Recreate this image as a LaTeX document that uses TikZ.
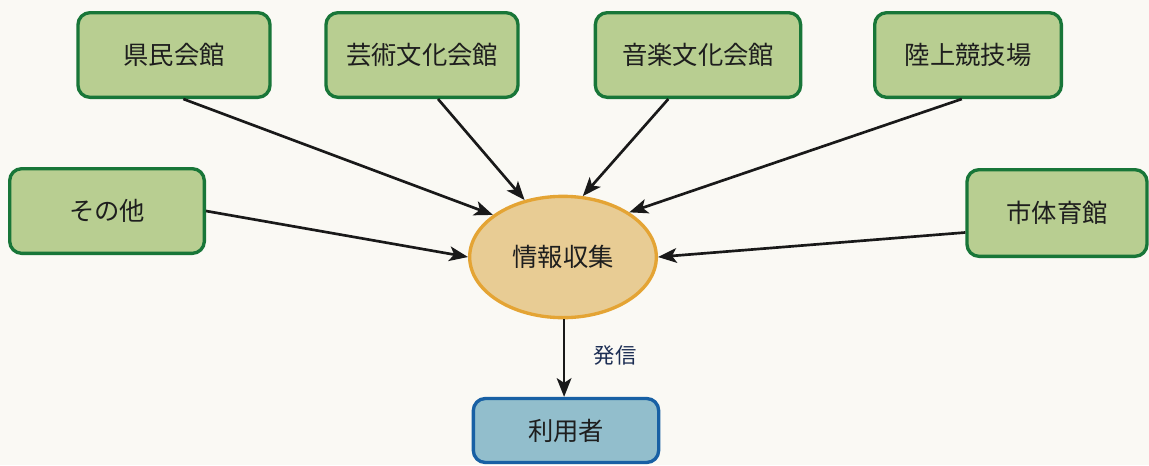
\documentclass[tikz,border=0pt]{standalone}
\usepackage{fontspec}
\newfontfamily\jpfont{Noto Sans CJK JP}
\usetikzlibrary{shapes.geometric,arrows.meta}

\tikzset{every picture/.style={line width=0.75pt}}
\tikzset{
	facility/.style={draw={rgb, 255:red, 24; green, 118; blue, 56 }, fill={rgb, 255:red, 184; green, 206; blue, 145 }, line width=2.5pt, rounded corners=9pt, minimum width=144pt, minimum height=63.5pt, text={rgb, 255:red, 30; green, 30; blue, 30 }, font=\jpfont\fontsize{19}{22}\selectfont},
	center/.style={ellipse, draw={rgb, 255:red, 228; green, 164; blue, 52 }, fill={rgb, 255:red, 232; green, 204; blue, 148 }, line width=2.5pt, minimum width=140pt, minimum height=91pt, inner sep=0pt, text={rgb, 255:red, 30; green, 30; blue, 30 }, font=\jpfont\fontsize{19}{22}\selectfont},
	user/.style={draw={rgb, 255:red, 24; green, 96; blue, 164 }, fill={rgb, 255:red, 146; green, 190; blue, 204 }, line width=2.5pt, rounded corners=9pt, minimum width=139pt, minimum height=48pt, text={rgb, 255:red, 30; green, 30; blue, 30 }, font=\jpfont\fontsize{19}{22}\selectfont},
	feed/.style={line width=2pt, -{Stealth[length=14pt,width=11pt,inset=3.5pt]}, draw={rgb, 255:red, 25; green, 25; blue, 25 }}
}

\begin{document}
\begin{tikzpicture}[x=0.75pt,y=0.75pt,yscale=-1,xscale=1]
	%set diagram area
	\useasboundingbox [fill={rgb, 255:red, 250; green, 249; blue, 244 }] (0,0) rectangle (1149,465);

	%Shape: Rounded Rect [id:kenmin] 
	\node [facility] (kenmin) at (174,55) {県民会館};
	%Shape: Rounded Rect [id:geijutsu] 
	\node [facility] (geijutsu) at (422,55) {芸術文化会館};
	%Shape: Rounded Rect [id:ongaku] 
	\node [facility, minimum width=154pt] (ongaku) at (698,55) {音楽文化会館};
	%Shape: Rounded Rect [id:rikujo] 
	\node [facility, minimum width=140pt] (rikujo) at (968,55) {陸上競技場};
	%Shape: Rounded Rect [id:sonota] 
	\node [facility, minimum width=146pt] (sonota) at (107,211) {その他};
	%Shape: Rounded Rect [id:shitaiiku] 
	\node [facility, minimum width=135pt, minimum height=65pt] (shitaiiku) at (1057,213) {市体育館};

	%Shape: Ellipse [id:joho] 
	\node [center] (joho) at (563,257) {情報収集};
	%Shape: Rounded Rect [id:riyosha] 
	\node [user] (riyosha) at (566,430.5) {利用者};

	%Straight Lines 
	\draw [feed] (kenmin.-78) -- (joho.149);
	\draw [feed] (geijutsu.-70) -- (joho.124);
	\draw [feed] (ongaku.236) -- (joho.72);
	\draw [feed] (rikujo.-98) -- (joho.34);
	\draw [feed] (sonota.east) -- (joho.180);
	\draw [feed] (shitaiiku.192) -- (joho.0);
	\draw [feed] (joho.-89) -- (riyosha.north -| joho.-89);

	% Text Node
	\node [text={rgb, 255:red, 28; green, 46; blue, 84 }, font=\jpfont\fontsize{16}{19}\selectfont] (hasshin) at (615,355) {発信};

\end{tikzpicture}
\end{document}
